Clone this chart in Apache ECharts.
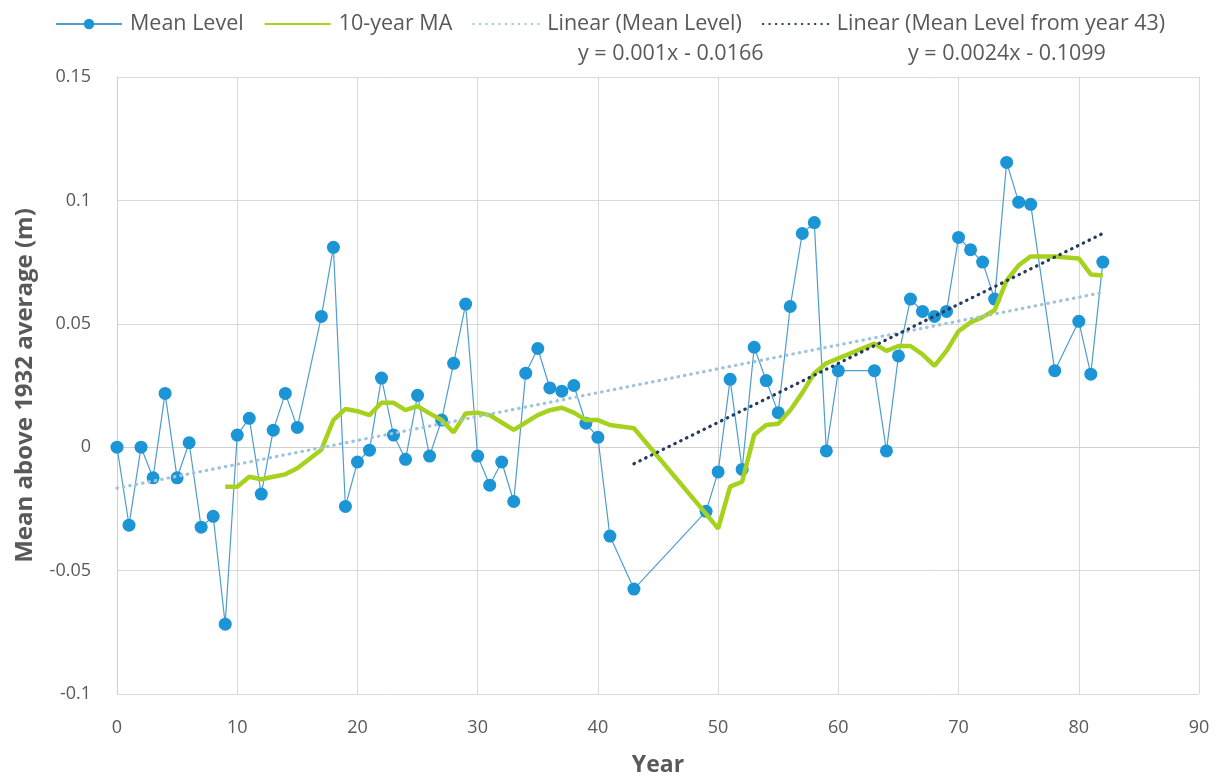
<!DOCTYPE html>
<html>
<head>
<meta charset="utf-8">
<script src="https://cdn.jsdelivr.net/npm/echarts@6/dist/echarts.min.js"></script>
<style>
  html, body { margin: 0; padding: 0; background: #fff; }
  #chart { width: 1216px; height: 776px; }
</style>
</head>
<body>
<div id="chart"></div>
<script>
// Mean level per year (m above 1932 average); some years have no reading
const years = [0, 1, 2, 3, 4, 5, 6, 7, 8, 9, 10, 11, 12, 13, 14, 15, 17, 18, 19, 20,
  21, 22, 23, 24, 25, 26, 27, 28, 29, 30, 31, 32, 33, 34, 35, 36, 37, 38, 39, 40,
  41, 43, 49, 50, 51, 52, 53, 54, 55, 56, 57, 58, 59, 60, 63, 64, 65, 66, 67, 68,
  69, 70, 71, 72, 73, 74, 75, 76, 78, 80, 81, 82];
const meanLevel = [0, -0.0316, 0, -0.0124, 0.0218, -0.0124, 0.0018, -0.0324, -0.028, -0.0717,
  0.0049, 0.0117, -0.019, 0.0069, 0.0218, 0.008, 0.053, 0.081, -0.024, -0.006,
  -0.0012, 0.028, 0.0049, -0.0049, 0.021, -0.0036, 0.011, 0.034, 0.058, -0.0036,
  -0.0154, -0.006, -0.022, 0.030, 0.040, 0.024, 0.0227, 0.025, 0.0097, 0.004,
  -0.036, -0.0575, -0.026, -0.010, 0.0275, -0.009, 0.0405, 0.027, 0.014, 0.057,
  0.0866, 0.091, -0.0015, 0.031, 0.031, -0.0015, 0.037, 0.060, 0.055, 0.053,
  0.055, 0.085, 0.080, 0.075, 0.060, 0.1154, 0.0993, 0.0984, 0.031, 0.051,
  0.0296, 0.075];

// 10-year moving average
const maYears = [9, 10, 11, 12, 13, 14, 15, 17, 18, 19, 20, 21, 22, 23, 24, 25, 26, 27, 28, 29,
  30, 31, 32, 33, 34, 35, 36, 37, 38, 39, 40, 41, 43, 49, 50, 51, 52, 53, 54, 55,
  56, 57, 58, 59, 60, 63, 64, 65, 66, 67, 68, 69, 70, 71, 72, 73, 74, 75, 76, 78,
  80, 81, 82];
const maValues = [-0.016, -0.016, -0.012, -0.013, -0.012, -0.011, -0.0085, -0.001, 0.011, 0.0155,
  0.0146, 0.013, 0.018, 0.018, 0.015, 0.0166, 0.0137, 0.011, 0.006, 0.0137,
  0.014, 0.013, 0.010, 0.007, 0.010, 0.013, 0.015, 0.016, 0.014, 0.011,
  0.011, 0.009, 0.0077, -0.027, -0.033, -0.016, -0.014, 0.005, 0.009, 0.0095,
  0.015, 0.022, 0.030, 0.034, 0.036, 0.042, 0.039, 0.041, 0.041, 0.0376,
  0.033, 0.039, 0.047, 0.0506, 0.0527, 0.0555, 0.0676, 0.0737, 0.0773, 0.0773,
  0.0765, 0.070, 0.0696];

// trendline end points
const trendAllX = [0, 82];
const trendAllY = [-0.0166, 0.0627];
const trend43X = [43, 82];
const trend43Y = [-0.0067, 0.0866];

const eqAll = "y = 0.001x - 0.0166";
const eq43 = "y = 0.0024x - 0.1099";

const pairs = (xs, ys) => xs.map((x, i) => [x, ys[i]]);

const font = "'Open Sans', 'Noto Sans', sans-serif";
const grey = "#595959";
const dots = [0.5, 6];

const chart = echarts.init(document.getElementById("chart"));

chart.setOption({
  animation: false,
  textStyle: { fontFamily: font },
  grid: { left: 117, right: 17, top: 77, bottom: 82, outerBoundsMode: "none" },
  legend: {
    left: 50,
    top: 8,
    itemWidth: 66,
    itemHeight: 13,
    itemGap: 20,
    textStyle: { fontSize: 21.5, color: grey, fontFamily: font, padding: [0, 0, 0, 3] },
    data: [
      { name: "Mean Level" },
      { name: "10-year MA", itemStyle: { opacity: 0 } },
      { name: "Linear (Mean Level)", itemStyle: { opacity: 0 } },
      { name: "Linear (Mean Level from year 43)", itemStyle: { opacity: 0 } },
    ],
  },
  graphic: [
    { type: "text", left: 578, top: 43, style: { text: eqAll, fontSize: 21.5, fill: grey, fontFamily: font } },
    { type: "text", left: 908, top: 43, style: { text: eq43, fontSize: 21.5, fill: grey, fontFamily: font } },
  ],
  xAxis: {
    type: "value",
    min: 0,
    max: 90,
    interval: 10,
    name: "Year",
    nameLocation: "middle",
    nameGap: 60,
    nameTextStyle: { fontSize: 23, fontWeight: "bold", color: grey },
    axisLine: { lineStyle: { color: "#d0d0d0" } },
    axisTick: { show: false },
    axisLabel: { fontSize: 18, color: grey, margin: 25 },
    splitLine: { lineStyle: { color: "#d9d9d9" } },
  },
  yAxis: {
    type: "value",
    min: -0.1,
    max: 0.15,
    interval: 0.05,
    name: "Mean above 1932 average (m)",
    nameLocation: "middle",
    nameGap: 80,
    nameTextStyle: { fontSize: 24, fontWeight: "bold", color: grey },
    axisLine: { show: true, lineStyle: { color: "#d0d0d0" } },
    axisTick: { show: false },
    axisLabel: {
      fontSize: 18,
      color: grey,
      margin: 26,
      formatter: (v) => String(parseFloat(v.toFixed(2))),
    },
    splitLine: { lineStyle: { color: "#d9d9d9" } },
  },
  series: [
    {
      name: "Mean Level",
      type: "line",
      data: pairs(years, meanLevel),
      symbol: "circle",
      symbolSize: 13,
      lineStyle: { color: "#4d9dcf", width: 1.2 },
      itemStyle: { color: "#1b95d6" },
      z: 2,
    },
    {
      name: "10-year MA",
      type: "line",
      data: pairs(maYears, maValues),
      symbol: "none",
      lineStyle: { color: "#a6d21e", width: 4.5 },
      itemStyle: { color: "#a6d21e" },
      z: 3,
    },
    {
      name: "Linear (Mean Level)",
      type: "line",
      data: pairs(trendAllX, trendAllY),
      symbol: "none",
      lineStyle: { color: "#9fc4d8", width: 3.2, type: dots, cap: "round" },
      itemStyle: { color: "#9fc4d8" },
      z: 4,
    },
    {
      name: "Linear (Mean Level from year 43)",
      type: "line",
      data: pairs(trend43X, trend43Y),
      symbol: "none",
      lineStyle: { color: "#243a5e", width: 3.2, type: dots, cap: "round" },
      itemStyle: { color: "#243a5e" },
      z: 4,
    },
  ],
});
</script>
</body>
</html>
